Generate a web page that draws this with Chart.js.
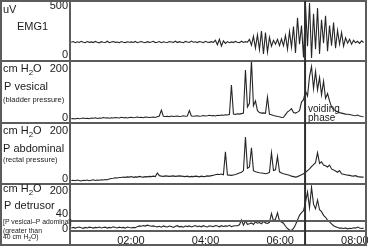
<!DOCTYPE html>
<html>
<head>
<meta charset="utf-8">
<script src="https://cdn.jsdelivr.net/npm/chart.js@4.4.1/dist/chart.umd.min.js"></script>
<style>
	html, body { margin: 0; padding: 0; background: #fff; }
	#wrap { width: 368px; height: 247px; }
</style>
</head>
<body>
<div id="wrap"><canvas id="uroChart" width="368" height="247"></canvas></div>
<script>
// traces are sampled every 3.22 min, first sample at 00:24
var startMin = 24;
var stepMin = 3.22;

var emgValues = [
	130, 138, 126, 135, 128, 140, 131, 125, 137, 129, 134, 127, 139, 130, 124, 136, 131, 128, 141, 126,
	133, 137, 129, 132, 125, 138, 130, 127, 135, 131, 134, 128, 139, 126, 132, 137, 130, 125, 136, 129,
	133, 140, 127, 131, 138, 126, 135, 130, 128, 137, 133, 129, 141, 127, 136, 131, 125, 139, 132, 128,
	142, 130, 135, 127, 138, 133, 126, 140, 131, 129, 136, 128, 150, 105, 160, 92, 145, 118, 137, 126,
	134, 127, 139, 130, 125, 141, 128, 136, 131,
	160, 100, 190, 70, 205, 55,
	245, 10, 230, 30,
	180, 90, 150, 110, 160, 95,
	165, 95, 200, 60, 240, 80, 290, 20, 380, 110,
	300, -25, 500, 90, 530, -30, 420, 60, 480, 10,
	360, 120, 400, 40, 300, 95, 330, 70, 250, 110,
	230, 90, 175, 120, 160, 110, 150, 125, 140, 118,
	145, 128
];

var vesicalValues = [
	-3, -2, -4, -1, -3, -2, 0, -2, -1, -3, 0, -1, 1, -2, 0, -1, 2, 0, 1, -1,
	1, 0, 2, 1, 0, 3, 1, 2, 0, 2, 3, 1, 2, 4, 2, 3, 1, 4, 3, 2,
	3, 4, 2,
	5, 8, 32, 7,
	6, 7, 5, 8, 6, 7, 8, 6, 7, 9, 7, 8,
	30, 8,
	7, 8, 9, 7, 8, 10, 8, 9, 11, 9, 10, 8, 11, 10,
	12, 11, 13, 12, 14,
	135,
	16, 15, 17, 16, 18, 20,
	196, 45, 60, 236, 50,
	70, 30,
	22, 20, 21, 19,
	85,
	15, 13, 10, 8, 6, 5,
	2, 3,
	14, 25, 30, 38, 22,
	20, 24, 30,
	65, 75,
	110, 90, 170, 210, 120, 190, 115, 165, 95, 150, 80, 100, 70, 45, 35, 30, 25, 22,
	20, 18, 16, 15, 14, 12, 10, 9, 12, 8, 6, 5
];

var abdominalValues = [
	-6, -5, -7, -4, -6, -8, -5, -6, -4, -7, -5, -3, -6, -4, -5, -3, -4, -2, -3,
	0, 2, 3, 5, 4, 6,
	6, 8, 7, 9, 8, 10, 7, 9, 8, 11, 9, 8, 10, 9, 11, 10, 12, 10,
	25,
	14, 12, 11, 13, 12, 11, 12, 13, 11, 12, 13, 12,
	11, 10, 12, 9, 11, 10, 12, 11, 9, 12, 10, 11, 13, 12, 14,
	16, 18, 20, 19, 21, 18,
	113,
	17, 16, 15, 17, 19, 22, 25, 28,
	35, 175, 45, 50, 130, 35,
	30, 28, 26, 25, 24, 22, 24,
	28, 110, 35, 38, 94,
	30, 25, 22, 20, 18, 16, 12, 10, 8, 10, 14, 18,
	22, 28, 35, 42, 52, 60, 68,
	110,
	65, 72, 58,
	55, 50, 58, 42, 38, 33, 28, 35,
	22, 20, 18, 16, 15, 13, 12, 14, 10, 9, 8, 8
];

var detrusorValues = [
	3, 6, 2, 5, 8, 4, 1, 6, 3, 7, 5, 2, 6, 4, 8, 3, 5, 7, 2, 6,
	4, 9, 5, 3, 7, 4, 6, 2, 8, 5, 3, 6, 4,
	10, 14, 12, 16, 13, 18, 15, 12, 14, 11,
	9, 12, 7, 14, 10, 8, 13, 11, 6, 12, 15, 9, 11, 7, 13, 10, 14, 8, 12, 16,
	10, 13, 9, 15, 11, 8, 14, 12, 10, 16, 13, 9, 15, 11, 14, 12, 17, 10, 13, 15,
	15, 20, 45, 18, 40, 22,
	25, 30, 22, 35, 28, 32, 25, 38, 30, 27, 33,
	80, 40, 50, 84,
	40, 35, 28,
	12, 0, -8,
	-10,
	0, 20, 45, 70,
	85, 95,
	140, 195, 110, 220, 130, 105, 152, 100, 90, 70, 60,
	45, 35, 25,
	15, 10, 5, 2,
	2, 0, 3, -2, 1, 0, 4, 2, 8, 3, 0, 2
];

var timeTicks = [120, 240, 360, 480];
var emgTicks = [0, 500];
var pressureTicks = [0, 200];
var detrusorTicks = [0, 40, 200];
var thresholdValue = 40;
var voidingStart = 400;

var frameColor = '#5c5c5c';
var traceColor = '#262626';
var textColor = '#1a1a1a';
var fontFamily = '"Liberation Sans", Arial, sans-serif';

function toPoints(values) {
	return values.map(function (v, i) {
		return {x: startMin + i * stepMin, y: v};
	});
}

function labelColumn(scale) {
	scale.width = 70;
	scale.paddingTop = 0;
	scale.paddingBottom = 0;
}

function panelAxis(tickValues, min, max, weight, stackWeight) {
	return {
		type: 'linear',
		position: 'left',
		stack: 'panels',
		stackWeight: stackWeight,
		weight: weight,
		min: min,
		max: max,
		afterBuildTicks: function (scale) {
			scale.ticks = tickValues.map(function (v) { return {value: v}; });
		},
		afterFit: labelColumn,
		grid: {display: false, drawTicks: false},
		border: {display: false},
		ticks: {
			autoSkip: false,
			padding: 2,
			color: textColor,
			font: {family: fontFamily, size: 11},
			callback: function (value) {
				// the threshold label sits just above its line
				return value === thresholdValue ? [String(value), ''] : String(value);
			}
		}
	};
}

function drawParts(ctx, parts, x, y, size) {
	// parts alternate normal text and subscript text
	for (var i = 0; i < parts.length; i++) {
		var sub = i % 2 === 1;
		ctx.font = (sub ? size * 0.72 : size) + 'px ' + fontFamily;
		ctx.fillText(parts[i], x, sub ? y + size * 0.32 : y);
		x += ctx.measureText(parts[i]).width;
	}
}

var sideLabels = [
	{axis: 'y1', items: [
		{parts: ['uV'], x: 3, dy: 9, size: 11},
		{parts: ['EMG1'], x: 17, dy: 26, size: 11}
	]},
	{axis: 'y2', items: [
		{parts: ['cm H', '2', 'O'], x: 3, dy: 8, size: 11},
		{parts: ['P vesical'], x: 4, dy: 26, size: 11},
		{parts: ['(bladder pressure)'], x: 3, dy: 39, size: 7.5}
	]},
	{axis: 'y3', items: [
		{parts: ['cm H', '2', 'O'], x: 3, dy: 8, size: 11},
		{parts: ['P abdominal'], x: 3, dy: 26, size: 11},
		{parts: ['(rectal pressure)'], x: 3, dy: 37, size: 7.5}
	]},
	{axis: 'y4', items: [
		{parts: ['cm H', '2', 'O'], x: 3, dy: 5, size: 11},
		{parts: ['P detrusor'], x: 4, dy: 22, size: 11},
		{parts: ['[P vesical\u2013P adominal]'], x: 3, dy: 38, size: 6.8},
		{parts: ['(greater than'], x: 3, dy: 47, size: 6.8},
		{parts: ['40 cm H', '2', 'O)'], x: 3, dy: 53, size: 6.8}
	]}
];

var panelFrame = {
	id: 'panelFrame',
	afterDraw: function (chart) {
		var ctx = chart.ctx;
		var area = chart.chartArea;
		var s = chart.scales;
		ctx.save();
		ctx.strokeStyle = frameColor;
		ctx.lineWidth = 2;
		ctx.beginPath();
		[s.y1, s.y2, s.y3].forEach(function (sc) {
			ctx.moveTo(0, sc.bottom);
			ctx.lineTo(area.right, sc.bottom);
		});
		ctx.moveTo(area.left, area.bottom);
		ctx.lineTo(area.right, area.bottom);
		var yT = s.y4.getPixelForValue(thresholdValue);
		ctx.moveTo(area.left, yT);
		ctx.lineTo(area.right, yT);
		ctx.moveTo(area.left, 0);
		ctx.lineTo(area.left, chart.height - 1);
		ctx.stroke();
		ctx.strokeRect(1, 1, area.right - 1, chart.height - 3);

		var xv = s.x.getPixelForValue(voidingStart);
		ctx.strokeStyle = '#2e2e2e';
		ctx.beginPath();
		ctx.moveTo(xv, 1);
		ctx.lineTo(xv, chart.height - 2);
		ctx.stroke();

		ctx.fillStyle = textColor;
		ctx.textBaseline = 'middle';
		ctx.textAlign = 'left';
		sideLabels.forEach(function (panel) {
			var top = s[panel.axis].top;
			panel.items.forEach(function (it) {
				drawParts(ctx, it.parts, it.x, top + it.dy, it.size);
			});
		});
		ctx.font = '10px ' + fontFamily;
		ctx.fillText('voiding', xv + 3, s.y2.bottom - 14);
		ctx.fillText('phase', xv + 3, s.y2.bottom - 5);
		ctx.restore();
	}
};

var ctx = document.getElementById('uroChart').getContext('2d');
var myChart = new Chart(ctx, {
	type: 'line',
	data: {
		datasets: [
			{data: toPoints(emgValues), yAxisID: 'y1'},
			{data: toPoints(vesicalValues), yAxisID: 'y2'},
			{data: toPoints(abdominalValues), yAxisID: 'y3'},
			{data: toPoints(detrusorValues), yAxisID: 'y4'}
		]
	},
	options: {
		responsive: false,
		animation: false,
		devicePixelRatio: 1,
		layout: {padding: {top: 1, right: 2, bottom: 1, left: 0}},
		elements: {
			point: {radius: 0},
			line: {borderColor: traceColor, borderWidth: 1.1, tension: 0}
		},
		scales: {
			x: {
				type: 'linear',
				position: 'bottom',
				min: 22,
				max: 498,
				afterBuildTicks: function (scale) {
					scale.ticks = timeTicks.map(function (v) { return {value: v}; });
				},
				afterFit: function (scale) {
					scale.height = 15;
					scale.paddingLeft = 0;
					scale.paddingRight = 0;
				},
				grid: {display: false, drawTicks: false},
				border: {display: false},
				ticks: {
					autoSkip: false,
					maxRotation: 0,
					padding: 3,
					color: textColor,
					font: {family: fontFamily, size: 11},
					callback: function (value) {
						var h = Math.floor(value / 60);
						return (h < 10 ? '0' : '') + h + ':00';
					}
				}
			},
			y1: panelAxis(emgTicks, -61, 551, 4, 60),
			y2: panelAxis(pressureTicks, -20.4, 232.7, 3, 62),
			y3: panelAxis(pressureTicks, -20.8, 233.3, 2, 61),
			y4: panelAxis(detrusorTicks, -13.3, 237.3, 1, 47)
		},
		plugins: {
			legend: {display: false},
			tooltip: {enabled: false}
		}
	},
	plugins: [panelFrame]
});
</script>
</body>
</html>
